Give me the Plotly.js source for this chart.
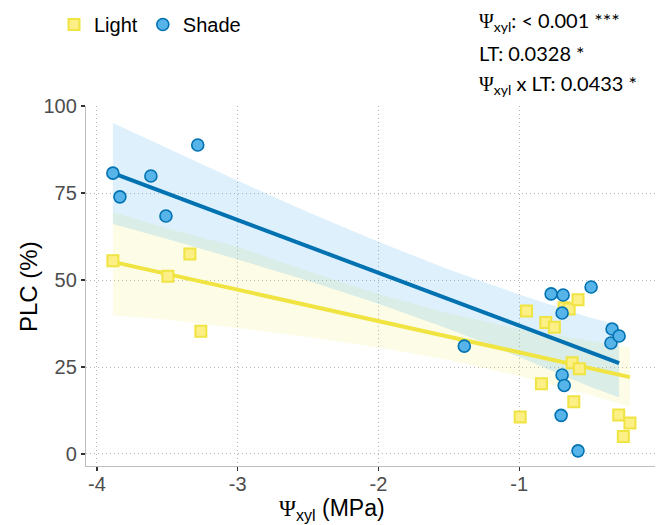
<!DOCTYPE html>
<html>
<head>
<meta charset="utf-8">
<script src="https://cdn.plot.ly/plotly-3.0.1.min.js"></script>
<style>html,body{margin:0;padding:0;background:#fff;}#plot{width:656px;height:525px;}</style>
</head>
<body>
<div id="plot"></div>
<script>
// ---- data ----
var lightX = [-3.887, -3.496, -3.34, -3.262, -0.993, -0.948, -0.842, -0.811, -0.75, -0.681, -0.645, -0.624, -0.612, -0.582, -0.572, -0.293, -0.26, -0.213];
var lightY = [55.5, 51.1, 57.5, 35.3, 10.6, 41.1, 20.2, 37.8, 36.4, 42.0, 41.7, 26.2, 15.0, 44.3, 24.5, 11.2, 5.0, 8.9];
var shadeX = [-3.887, -3.837, -3.617, -3.51, -3.284, -1.39, -0.773, -0.695, -0.688, -0.695, -0.68, -0.702, -0.582, -0.489, -0.348, -0.34, -0.29];
var shadeY = [80.7, 73.9, 79.9, 68.4, 88.8, 31.0, 46.0, 40.5, 45.7, 22.7, 19.7, 11.1, 0.9, 48.0, 31.9, 35.9, 33.9];

// fitted lines and confidence bands
var lightFitX = [-3.887, -0.213];
var lightFit = [55.2, 22.1];
var lightBandX = [-3.887, -3.5, -3.0, -2.5, -2.0, -1.5, -1.0, -0.5, -0.213];
var lightUpper = [69.5, 64.8, 59.5, 52.5, 46.0, 40.4, 35.9, 32.4, 30.5];
var lightLower = [39.9, 38.6, 36.2, 33.6, 30.6, 27.0, 22.4, 17.0, 13.6];
var shadeFitX = [-3.887, -0.29];
var shadeFit = [80.7, 26.1];
var shadeBandX = [-3.887, -3.5, -3.0, -2.5, -2.0, -1.5, -1.0, -0.5, -0.29];
var shadeUpper = [95.1, 87.8, 78.5, 69.5, 61.0, 53.0, 45.8, 39.2, 37.1];
var shadeLower = [66.1, 61.8, 55.9, 49.8, 43.2, 35.9, 27.9, 19.4, 16.2];

var xTickVals = [-4, -3, -2, -1];
var xTickText = ['-4', '-3', '-2', '-1'];
var yTickVals = [0, 25, 50, 75, 100];
var yTickText = ['0', '25', '50', '75', '100'];

var statLines = [
  '<span style="font-family:Liberation Serif">\u03A8</span><sub>xyl</sub>: &lt; 0.001 ***',
  'LT: 0.0328 *',
  '<span style="font-family:Liberation Serif">\u03A8</span><sub>xyl</sub> x LT: 0.0433 *'
];
var xTitle = '<span style="font-family:Liberation Serif">\u03A8</span><sub>xyl</sub> (MPa)';
var yTitle = 'PLC (%)';

var blue = '#0072B2', blueFill = '#56B4E9';
var yellow = '#F0E442', yellowFill = '#FBEF86';

function band(xs, up, lo, color) {
  return {
    x: xs.concat(xs.slice().reverse()),
    y: up.concat(lo.slice().reverse()),
    type: 'scatter', mode: 'lines', fill: 'toself', line: {width: 0},
    fillcolor: color, hoverinfo: 'skip', showlegend: false
  };
}

var traces = [
  band(lightBandX, lightUpper, lightLower, 'rgba(240,228,66,0.13)'),
  band(shadeBandX, shadeUpper, shadeLower, 'rgba(86,180,233,0.2)'),
  {x: lightFitX, y: lightFit, type: 'scatter', mode: 'lines', line: {color: yellow, width: 4}, showlegend: false},
  {x: shadeFitX, y: shadeFit, type: 'scatter', mode: 'lines', line: {color: blue, width: 4}, showlegend: false},
  {x: lightX, y: lightY, name: 'Light', type: 'scatter', mode: 'markers',
   marker: {symbol: 'square', size: 11, color: yellowFill, line: {color: yellow, width: 2}}},
  {x: shadeX, y: shadeY, name: 'Shade', type: 'scatter', mode: 'markers',
   marker: {symbol: 'circle', size: 12, color: blueFill, line: {color: blue, width: 1.6}}}
];

var W = 569, H = 360, L = 86, T = 106;
function px(xp) { return (xp - L) / W; }
function py(yp) { return 1 - (yp - T) / H; }

var annFont = {family: 'Lato, Open Sans, sans-serif', size: 20, color: '#000'};
var annotations = statLines.map(function (t, i) {
  return {xref: 'paper', yref: 'paper', x: px(477), y: py([22, 53, 84][i]),
          xanchor: 'left', yanchor: 'middle', showarrow: false, align: 'left', text: t, font: annFont};
});
annotations.push({
  xref: 'paper', yref: 'paper', x: px(332), y: py(509), xanchor: 'center', yanchor: 'middle',
  showarrow: false, text: xTitle,
  font: {family: 'Liberation Sans, Arial, sans-serif', size: 23, color: '#000'}
});
annotations.push({
  xref: 'paper', yref: 'paper', x: px(28), y: py(287), xanchor: 'center', yanchor: 'middle', textangle: -90,
  showarrow: false, text: yTitle,
  font: {family: 'Liberation Sans, Arial, sans-serif', size: 24, color: '#000'}
});

var gridDash = '1px,3px';
var layout = {
  width: 656, height: 525,
  margin: {l: 86, r: 1, t: 106, b: 59},
  paper_bgcolor: '#fff', plot_bgcolor: '#fff',
  font: {family: 'Liberation Sans, Arial, sans-serif', color: '#000'},
  showlegend: true,
  legend: {orientation: 'h', xref: 'container', yref: 'container', x: 54 / 656, y: 1 - 5 / 525,
           xanchor: 'left', yanchor: 'top', font: {size: 20, color: '#000'}, bgcolor: 'rgba(0,0,0,0)'},
  xaxis: {
    range: [-4.078, -0.035], tickmode: 'array', tickvals: xTickVals, ticktext: xTickText,
    showgrid: true, gridcolor: '#b5b5b5', griddash: gridDash, gridwidth: 1,
    zeroline: false, showline: true, linecolor: '#bdbdbd', linewidth: 1.2,
    ticks: 'outside', ticklen: 4, tickcolor: '#333', tickwidth: 1.2, ticklabelstandoff: -4,
    tickfont: {size: 20, color: '#4d4d4d'}
  },
  yaxis: {
    range: [-3.45, 100], tickmode: 'array', tickvals: yTickVals, ticktext: yTickText,
    showgrid: true, gridcolor: '#b5b5b5', griddash: gridDash, gridwidth: 1,
    zeroline: false, showline: true, linecolor: '#bdbdbd', linewidth: 1.2,
    ticks: 'outside', ticklen: 4, tickcolor: '#333', tickwidth: 1.2,
    tickfont: {size: 20, color: '#4d4d4d'}
  },
  annotations: annotations
};

Plotly.newPlot('plot', traces, layout, {displayModeBar: false, staticPlot: true});
</script>
</body>
</html>
